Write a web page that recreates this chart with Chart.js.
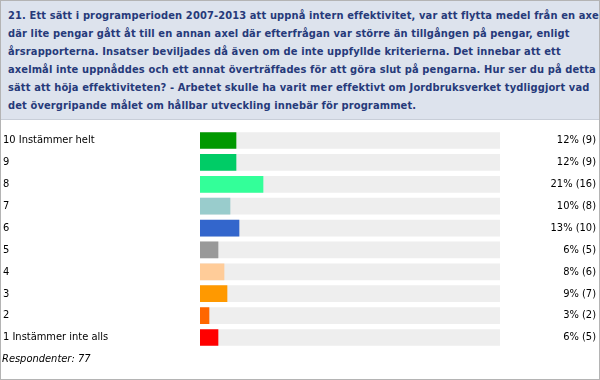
<!DOCTYPE html>
<html>
<head>
<meta charset="utf-8">
<script src="https://cdn.jsdelivr.net/npm/chart.js@4"></script>
<style>
  html, body { margin: 0; padding: 0; background: #fff; }
  #frame {
    position: relative; width: 598px; height: 378px;
    border: 1px solid #b4b4b4; overflow: hidden; background: #fff;
  }
  #question {
    position: absolute; left: 0; top: 0; width: 598px; height: 119px;
    background: #dde3ed; border-bottom: 1px solid #c8ced8;
    color: #263a7a; font: bold 11px "DejaVu Sans Condensed", "DejaVu Sans", sans-serif;
    letter-spacing: 0.13px;
    line-height: 18px; white-space: nowrap; overflow: hidden;
    padding: 6px 0 0 7px; box-sizing: border-box;
  }
  #chartBox { position: absolute; left: 0; top: 119px; width: 598px; height: 238px; }
  #responders {
    position: absolute; left: 1px; top: 351px;
    font: italic 11px "DejaVu Sans Condensed", "DejaVu Sans", sans-serif; color: #000;
  }
</style>
</head>
<body>
<div id="frame">
  <div id="question">21. Ett sätt i programperioden 2007-2013 att uppnå intern effektivitet, var att flytta medel från en axel<br>där lite pengar gått åt till en annan axel där efterfrågan var större än tillgången på pengar, enligt<br>årsrapporterna. Insatser beviljades då även om de inte uppfyllde kriterierna. Det innebar att ett<br>axelmål inte uppnåddes och ett annat överträffades för att göra slut på pengarna. Hur ser du på detta<br>sätt att höja effektiviteten? - Arbetet skulle ha varit mer effektivt om Jordbruksverket tydliggjort vad<br>det övergripande målet om hållbar utveckling innebär för programmet.</div>
  <div id="chartBox"><canvas id="surveyChart" width="598" height="238"></canvas></div>
  <div id="responders">Respondenter: 77</div>
</div>
<script>
// answer options, top to bottom
const answers = ['10 Instämmer helt', '9', '8', '7', '6', '5', '4', '3', '2', '1 Instämmer inte alls'];
const percents = [12, 12, 21, 10, 13, 6, 8, 9, 3, 6];
const counts = [9, 9, 16, 8, 10, 5, 6, 7, 2, 5];
const barColors = ['#009900', '#00cc66', '#33ff99', '#99cccc', '#3366cc', '#999999', '#ffcc99', '#ff9900', '#ff6600', '#ff0000'];
const trackValues = [100, 100, 100, 100, 100, 100, 100, 100, 100, 100];

const rightLabels = percents.map((p, i) => p + '% (' + counts[i] + ')');

function createSurveyChart() {
    const ctx = document.getElementById('surveyChart').getContext('2d');

    new Chart(ctx, {
        type: 'bar',
        data: {
            labels: answers,
            datasets: [{
                label: 'Andel',
                data: percents,
                backgroundColor: barColors,
                grouped: false,
                order: 0,
                barThickness: 16
            },
            {
                label: 'track',
                data: trackValues,
                backgroundColor: '#eeeeee',
                grouped: false,
                order: 1,
                barThickness: 16
            }]
        },
        options: {
            indexAxis: 'y',
            responsive: false,
            animation: false,
            layout: { padding: { left: 2, right: 3, top: 0, bottom: 0 } },
            plugins: {
                legend: { display: false },
                tooltip: { enabled: false }
            },
            scales: {
                x: {
                    display: false,
                    min: 0,
                    max: 100
                },
                y: {
                    position: 'left',
                    grid: { display: false },
                    border: { display: false },
                    ticks: {
                        crossAlign: 'far',
                        color: '#000',
                        font: { family: 'DejaVu Sans Condensed', size: 11 }
                    },
                    afterFit: (scale) => { scale.width = 197; }
                },
                y2: {
                    type: 'category',
                    labels: rightLabels,
                    position: 'right',
                    grid: { display: false },
                    border: { display: false },
                    ticks: {
                        crossAlign: 'far',
                        color: '#000',
                        font: { family: 'DejaVu Sans Condensed', size: 11 }
                    },
                    afterFit: (scale) => { scale.width = 96; }
                }
            }
        }
    });
}

document.addEventListener('DOMContentLoaded', () => {
    createSurveyChart();
});
</script>
</body>
</html>
